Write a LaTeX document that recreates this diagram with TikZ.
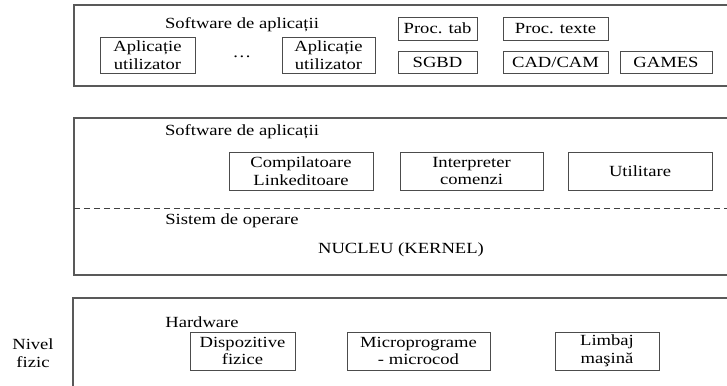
\documentclass[tikz,border=0pt]{standalone}
\usepackage{fontspec}
\setmainfont{Liberation Serif}[FakeStretch=1.2]
\begin{document}
\begin{tikzpicture}[x=1pt,y=-1pt,
  every node/.style={font=\fontsize{15.5}{17.5}\selectfont, inner sep=0pt, text=black},
  outerbox/.style={draw=black!65, line width=1.1pt},
  bx/.style={draw=black!70, line width=0.9pt, minimum height=#1, align=center},
  bx/.default=38pt]
\clip (0,0) rectangle (727,385);
\fill[white] (0,0) rectangle (727,385);
% outer boxes
\draw[outerbox] (740,5) -- (74,5) -- (74,86) -- (740,86);
\draw[outerbox] (740,118) -- (74,118) -- (74,275) -- (740,275);
\draw[outerbox] (740,298) -- (73,298) -- (73,400);
% top level
\node (t1) at (242,25) {Software de aplicații};
\node[bx=36pt, minimum width=95pt] (ap1) at (147.5,55) {Aplicație\\utilizator};
\node (dots) at (242,57) {\dots};
\node[bx=36pt, minimum width=93pt] (ap2) at (328.5,55) {Aplicație\\utilizator};
\node[bx=23pt, minimum width=79pt] (ptab) at (437.5,28.5) {Proc. tab};
\node[bx=23pt, minimum width=105pt] (ptxt) at (555.5,28.5) {Proc. texte};
\node[bx=22pt, minimum width=79pt] (sgbd) at (437.5,62) {SGBD};
\node[bx=22pt, minimum width=105pt] (cad) at (555.5,62) {CAD/CAM};
\node[bx=22pt, minimum width=92pt] (games) at (666,62) {GAMES};
% middle level
\node (t2) at (242,132) {Software de aplicații};
\node[bx, minimum width=144pt] (comp) at (301,171) {Compilatoare\\Linkeditoare};
\node[bx, minimum width=143pt] (interp) at (471.5,171) {Interpreter\\comenzi};
\node[bx, minimum width=144pt] (util) at (640,171) {Utilitare};
\draw[black!75, line width=0.9pt, dash pattern=on 6pt off 4pt] (74,208) -- (740,208);
\node (so) at (232,221) {Sistem de operare};
\node (nuc) at (401,250) {NUCLEU (KERNEL)};
% bottom level
\node (hw) at (202,322) {Hardware};
\node[bx, minimum width=105pt] (disp) at (242.5,351) {Dispozitive\\fizice};
\node[bx, minimum width=143pt] (micro) at (418.5,351) {Microprograme\\- microcod};
\node[bx, minimum width=104pt] (limb) at (607,351) {Limbaj\\maşină};
\node[align=center] (niv) at (33,353) {Nivel\\fizic};
\end{tikzpicture}
\end{document}
